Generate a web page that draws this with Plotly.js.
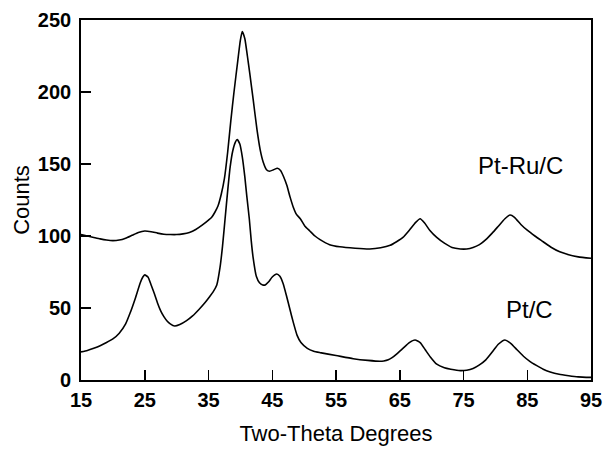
<!DOCTYPE html>
<html>
<head>
<meta charset="utf-8">
<script src="https://cdn.plot.ly/plotly-3.0.1.min.js"></script>
<style>html,body{margin:0;padding:0;background:#fff;}#chart{width:603px;height:451px;}</style>
</head>
<body>
<div id="chart"></div>
<script>
// Pt-Ru/C diffractogram (upper curve)
const ptRuX = [15,16,17,18,19,20,21,22,23,24,25,26,27,28,29,30,31,32,33,34,35,35.5,36,36.5,37,37.5,38,38.5,39,39.6,40,40.3,40.7,41.1,41.5,42,42.6,43.1,43.6,44.1,44.6,45.2,45.8,46.3,46.8,47.3,47.8,48.3,48.8,49.4,50.1,50.9,51.7,52.5,54,55.6,58,60.3,62,63.5,64.5,65.5,66.5,67.5,68.2,68.9,69.7,70.8,72,73.2,74.5,75.5,76.5,77.5,78.5,79.5,80.5,81.5,82.3,83,84,85,86.2,87.5,88.8,90.1,91.5,93,95];
const ptRuY = [101,100,99,98,97.2,96.8,97.2,98.5,100.5,102.5,103.5,103,102,101.2,101,101,101.5,102.5,104.5,107.5,111,113,116.5,121,129,140,158,180,200,222,236,242,237,225,212,195,174,160,151,146,145,146,147,145.5,141,135,127,120,115,112,107,103.5,100,97.5,94,92.5,91.5,91,91.8,93.5,96,99,104,109.5,112,109,104,99,95,92,91,91,92,94,97.5,102,107,112,114.6,113,108,104,100,96,92,89,87,85.5,84.5];
// Pt/C diffractogram (lower curve)
const ptX = [15,16,17,18,19,20,21,22,22.7,23.5,24.3,24.7,25,25.5,26,26.5,27,27.5,28,28.5,29,29.7,30.5,31.5,32.5,33.5,34.5,35.2,35.7,36.3,36.8,37.2,37.6,38,38.4,38.8,39.2,39.5,39.9,40.3,40.7,41,41.4,41.7,42,42.5,43,43.5,43.9,44.4,45,45.7,46.2,46.7,47.2,47.8,48.3,48.9,49.5,50.5,51.5,52.5,55,57.7,60,61.9,62.5,63.2,63.8,64.5,65.5,66.5,67.4,68.2,69,69.8,70.8,72,73,74.5,75.5,76.5,77.5,78.5,79.6,80.5,81.5,82.4,83.4,84.4,85.4,86.5,87.5,88.6,90,91.5,93,95];
const ptY = [19.5,20.5,22,23.8,26,28.5,32.5,39,46.5,56.5,67.5,71.5,73,71.5,66,60,53.5,48,44,41,39,37.5,38.5,41,44.5,49,54,58,61,66,78,93,112,131,148,159,165,167,164,155,141,128,112,97,85,72,67.5,66,66,68,71.5,73.6,72,67,59,48.6,40,31,26,22,20,19,17,14.8,13.6,13,13.2,14,15.5,18,22,26,27.8,26,21,16,11,8.5,7.5,6.5,6.8,8,10.5,14,20,25,27.8,25.5,21,16.5,13,10,7.5,5.6,4,3,2.2,1.8];
const xTicks = [15,25,35,45,55,65,75,85,95];
const yTicks = [0,50,100,150,200,250];
const seriesLabels = ["Pt-Ru/C","Pt/C"];

const lineStyle = {color:'#000', width:1.6, shape:'spline', smoothing:0.5};
const traces = [
  {x:ptRuX, y:ptRuY, mode:'lines', line:lineStyle, name:seriesLabels[0], hoverinfo:'skip'},
  {x:ptX, y:ptY, mode:'lines', line:lineStyle, name:seriesLabels[1], hoverinfo:'skip'}
];
const font = {family:'"Liberation Sans", Arial, Helvetica, sans-serif', color:'#000'};
const layout = {
  width:603, height:451,
  margin:{l:81, r:12, t:20, b:71},
  paper_bgcolor:'#fff', plot_bgcolor:'#fff',
  showlegend:false,
  font:font,
  xaxis:{
    range:[15,95], tickvals:xTicks, ticktext:xTicks.map(String),
    ticks:'inside', ticklen:10, tickwidth:1.5, tickcolor:'#000',
    showline:true, linecolor:'#000', linewidth:1.8, mirror:true,
    showgrid:false, zeroline:false,
    tickfont:{family:font.family, size:20, color:'#000', weight:'bold'},
    ticklabelstandoff:1,
    title:{text:'Two-Theta Degrees', font:{family:font.family, size:22, color:'#000'}, standoff:16}
  },
  yaxis:{
    range:[0,250], tickvals:yTicks, ticktext:yTicks.map(String),
    ticks:'inside', ticklen:10, tickwidth:1.5, tickcolor:'#000',
    showline:true, linecolor:'#000', linewidth:1.8, mirror:true,
    showgrid:false, zeroline:false,
    tickfont:{family:font.family, size:20, color:'#000', weight:'bold'},
    ticklabelstandoff:4,
    title:{text:'Counts', font:{family:font.family, size:22, color:'#000'}, standoff:2}
  },
  annotations:[
    {x:83.9, y:149, xref:'x', yref:'y', text:seriesLabels[0], showarrow:false,
     font:{family:font.family, size:24, color:'#000'}},
    {x:85.4, y:49.3, xref:'x', yref:'y', text:seriesLabels[1], showarrow:false,
     font:{family:font.family, size:24, color:'#000'}}
  ]
};
Plotly.newPlot('chart', traces, layout, {staticPlot:true, displayModeBar:false});
</script>
</body>
</html>
